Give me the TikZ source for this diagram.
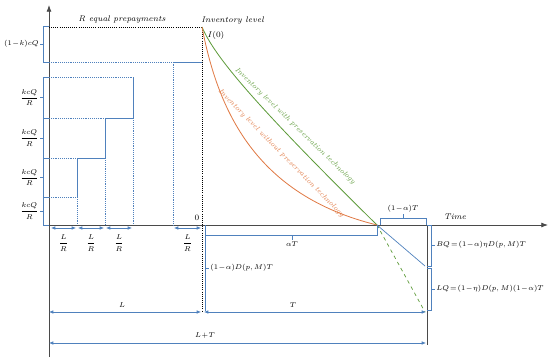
\documentclass[tikz,border=0pt]{standalone}
\usepackage{amsmath,amssymb}
\usepackage{tikz}
\usetikzlibrary{arrows.meta,positioning,calc}
\definecolor{cblue}{HTML}{4F81BD}
\definecolor{cgreen}{HTML}{5E9B3A}
\definecolor{corange}{HTML}{E07A45}
\definecolor{cgray}{HTML}{4A4A4A}

\begin{document}
\begin{tikzpicture}[x=0.03cm,y=-0.03cm,
  font=\fontsize{7}{8.5}\selectfont\itshape,
  axis/.style={-{Latex[length=2mm,width=1.5mm]},line width=0.7pt,cgray},
  blu/.style={cblue,line width=0.6pt},
  bdot/.style={cblue,densely dotted,line width=0.6pt},
  kdot/.style={black,densely dotted,line width=0.8pt},
  dim/.style={{Latex[length=1.3mm,width=1.1mm]}-{Latex[length=1.3mm,width=1.1mm]},cblue,line width=0.6pt},
  lbl/.style={inner sep=1pt},
  eqlbl/.style={inner sep=1pt,font=\fontsize{6.5}{8}\selectfont},
  curvelbl/.style={inner sep=0pt,font=\fontsize{6.2}{7}\selectfont\itshape}]
  \useasboundingbox (0,0) rectangle (550,362);
  \coordinate (O) at (49,225);
  \coordinate (ytop) at (49,5);
  \coordinate (ybot) at (49,357);
  \coordinate (xend) at (548,225);
  \coordinate (I0) at (202,27);
  \coordinate (Z) at (202,225);
  \coordinate (M) at (377,225);
  \coordinate (E) at (427,225);
  \coordinate (Ebot) at (427,345);
  % axes
  \draw[axis] (ybot) -- (ytop);
  \draw[axis] (O) -- (xend);
  \node[lbl] (time) at (455,217) {Time};
  \node[lbl,font=\fontsize{7}{8.5}\selectfont\upshape] (zero) at (197,218) {0};
  % prepayments
  \draw[kdot] (O |- I0) -- (I0) -- (202,312);
  \node[lbl] (rpre) at (122,19) {R equal prepayments};
  \foreach \sx/\lo/\hi in {77/197/158,105/158/118,133/118/77}{
    \draw[bdot] (49,\lo) -- (\sx,\lo) -- (\sx,225);
    \draw[blu] (\sx,\lo) -- (\sx,\hi);
  }
  \draw[blu] (77,158) -- (105,158);
  \draw[blu] (105,118) -- (133,118);
  \draw[bdot] (49,77) -- (133,77);
  \draw[bdot] (49,62) -- (173,62) -- (173,225);
  \draw[blu] (173,62) -- (202,62);
  % braces on the left
  \foreach \a/\b/\n in {26/62/b1,77/118/b2,118/158/b3,158/197/b4,197/225/b5}
    \draw[blu] (49,\a) -- (43,\a) -- (43,\b) -- (49,\b)
      (43,{(\a+\b)/2}) -- (40,{(\a+\b)/2}) coordinate (\n);
  \node[eqlbl,left=0pt of b1] (q1) {$(1\!-\!k)cQ$};
  \foreach \n in {b2,b3,b4,b5}
    \node[eqlbl,left=0pt of \n] (q\n) {$\displaystyle\frac{kcQ}{R}$};
  % L/R intervals
  \foreach \a/\b/\n in {51/76/r1,78/104/r2,106/132/r3,174/201/r4}{
    \draw[dim] (\a,228) -- (\b,228);
    \node[eqlbl] (\n) at ({(\a+\b)/2},243) {$\displaystyle\frac{L}{R}$};
  }
  % inventory curves
  \node[lbl,anchor=west] (invlvl) at (200,20) {Inventory level};
  \node[lbl] (izero) at (216,35) {$I(0)$};
  \draw[cgreen,line width=0.7pt] (I0) .. controls (214,55) and (250,100) .. (M);
  \draw[corange,line width=0.7pt] (I0) .. controls (218,110) and (255,195) .. (M);
  \node[curvelbl,text=cgreen,rotate=-44] (lgreen) at (295,126)
    {Inventory level with preservation technology};
  \node[curvelbl,text=corange,rotate=-45.5] (lorange) at (281,153)
    {Inventory level without preservation technology};
  \draw[cgreen,dashed,line width=0.6pt] (M) -- (425,312);
  \draw[blu] (M) -- (425,266);
  \draw[line width=0.7pt,cgray] (E) -- (Ebot);
  % brackets on the time axis
  \draw[blu] (205,225) -- (205,311);
  \draw[blu] (205,235) -- (377,235) -- (M);
  \draw[blu] (292,235) -- (292,240) coordinate (aTt);
  \node[eqlbl,below=0pt of aTt] (aT) {$\alpha T$};
  \draw[blu] (205,268) -- (209,268) coordinate (dTt);
  \node[eqlbl,right=0pt of dTt] (dT) {$(1\!-\!\alpha)D(p,M)T$};
  \draw[blu] (380,225) -- (380,218) -- (426,218) -- (426,225);
  \draw[blu] (403,218) -- (403,214) coordinate (raTt);
  \node[eqlbl,above=0pt of raTt] (raT) {$(1\!-\!\alpha)T$};
  % backorder and lost sales
  \draw[blu] (E) -- (431,225) -- (431,266) -- (427,266);
  \draw[blu] (431,245) -- (435,245) coordinate (bqt);
  \node[eqlbl,right=0pt of bqt] (bq) {$BQ\!=\!(1\!-\!\alpha)\eta D(p,M)T$};
  \draw[blu] (427,268) -- (431,268) -- (431,310) -- (427,310);
  \draw[blu] (431,289) -- (435,289) coordinate (lqt);
  \node[eqlbl,right=0pt of lqt] (lq) {$LQ\!=\!(1\!-\!\eta)D(p,M)(1\!-\!\alpha)T$};
  % lengths
  \draw[dim] (49,312) -- (201,312);
  \node[eqlbl] (lL) at (122,305) {$L$};
  \draw[dim] (204,312) -- (426,312);
  \node[eqlbl] (lT) at (293,305) {$T$};
  \draw[dim] (49,343) -- (426,343);
  \node[eqlbl] (lLT) at (205,336) {$L\!+\!T$};
\end{tikzpicture}
\end{document}
